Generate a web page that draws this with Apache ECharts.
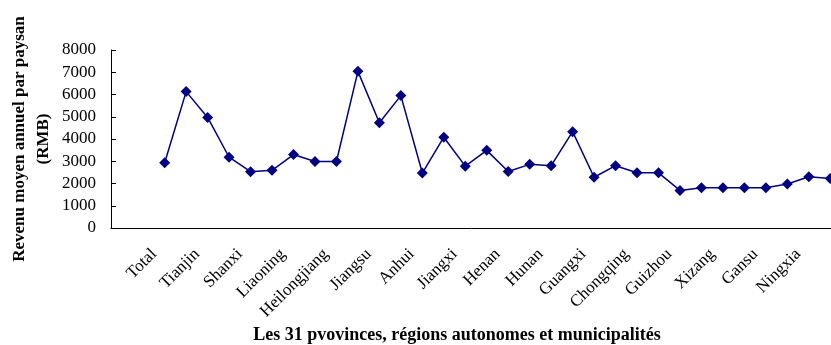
<!DOCTYPE html>
<html>
<head>
<meta charset="utf-8">
<script src="https://cdn.jsdelivr.net/npm/echarts@6/dist/echarts.min.js"></script>
<style>html,body{margin:0;padding:0;background:#fff;}#c{width:831px;height:345px;}</style>
</head>
<body>
<div id="c"></div>
<script>
// Two empty leading category slots as in the original worksheet
const categories = ['', '', 'Total', 'Beijing', 'Tianjin', 'Hebei', 'Shanxi', 'Nei Mongol', 'Liaoning', 'Jilin',
  'Heilongjiang', 'Shanghai', 'Jiangsu', 'Zhejiang', 'Anhui', 'Fujian', 'Jiangxi', 'Shandong',
  'Henan', 'Hubei', 'Hunan', 'Guangdong', 'Guangxi', 'Hainan', 'Chongqing', 'Sichuan',
  'Guizhou', 'Yunnan', 'Xizang', 'Shaanxi', 'Gansu', 'Qinghai', 'Ningxia', 'Xinjiang'];
const revenu = [null, null, 2930, 6130, 4970, 3180, 2530, 2590, 3300, 2990,
  2990, 7040, 4730, 5950, 2470, 4080, 2780, 3490,
  2540, 2860, 2800, 4330, 2280, 2800, 2480, 2480,
  1690, 1810, 1810, 1810, 1810, 1980, 2300, 2220];
const yTicks = { min: 0, max: 8000, interval: 1000 };
const yName = 'Revenu moyen annuel par paysan\n(RMB)';
const xName = 'Les 31 pvovinces, régions autonomes et municipalités';

const chart = echarts.init(document.getElementById('c'), null, { renderer: 'canvas' });
const serif = '"Liberation Serif", "Times New Roman", serif';
chart.setOption({
  animation: false,
  backgroundColor: '#fff',
  grid: { left: 111, top: 50, width: 730, height: 178, containLabel: false, outerBoundsMode: 'none' },
  xAxis: {
    type: 'category',
    data: categories,
    boundaryGap: true,
    name: xName,
    nameLocation: 'middle',
    nameGap: 98,
    nameMoveOverlap: false,
    nameTextStyle: { fontFamily: serif, fontSize: 18, fontWeight: 'bold', color: '#000', padding: [0, 38, 0, 0] },
    axisLine: { lineStyle: { color: '#000', width: 1 } },
    axisTick: { inside: true, length: 5, interval: 0, lineStyle: { color: '#000' } },
    axisLabel: { interval: 1, rotate: 45, margin: 13, fontFamily: serif, fontSize: 17, color: '#000', padding: [0, 15, 0, 0] },
    splitLine: { show: false }
  },
  yAxis: {
    type: 'value',
    min: yTicks.min, max: yTicks.max, interval: yTicks.interval,
    name: yName,
    nameLocation: 'middle',
    nameGap: 55,
    nameMoveOverlap: false,
    nameTextStyle: { fontFamily: serif, fontSize: 17, fontWeight: 'bold', color: '#000', lineHeight: 24 },
    axisLine: { show: true, lineStyle: { color: '#000', width: 1 } },
    axisTick: { show: true, inside: true, length: 5, lineStyle: { color: '#000' } },
    axisLabel: { margin: 15, fontFamily: serif, fontSize: 17, color: '#000', formatter: v => String(v) },
    splitLine: { show: false }
  },
  series: [{
    type: 'line',
    data: revenu,
    symbol: 'diamond',
    symbolSize: 11,
    showAllSymbol: true,
    lineStyle: { color: '#000080', width: 1.5 },
    itemStyle: { color: '#000080' }
  }]
});
</script>
</body>
</html>
